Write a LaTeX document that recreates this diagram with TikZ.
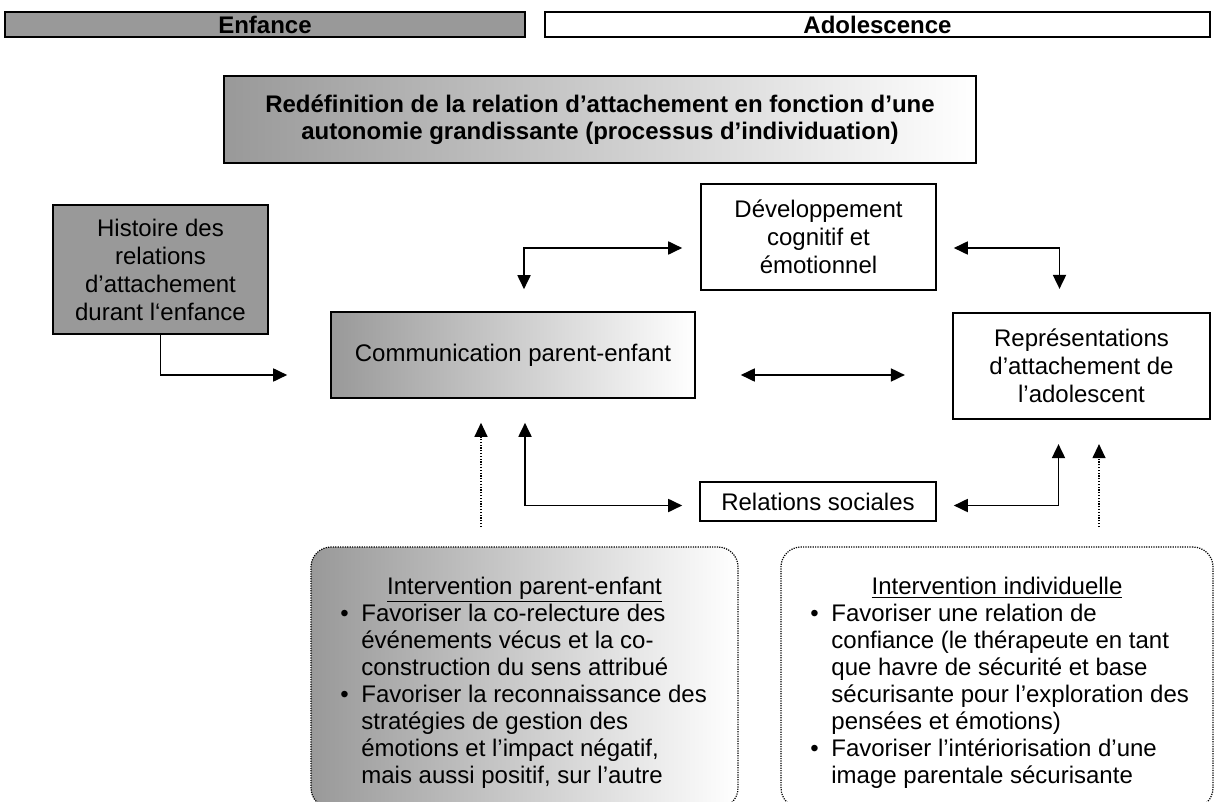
\documentclass[tikz,border=0pt]{standalone}
\usepackage{fontspec}
\setmainfont{Liberation Sans}
\usepackage{tikz}
\usetikzlibrary{arrows.meta, positioning}
\definecolor{boxgray}{HTML}{999999}

\begin{document}
\begin{tikzpicture}[
        x=0.5pt, y=-0.5pt,
        every node/.style={font=\fontsize{12}{14}\selectfont},
        box/.style={
            draw,
            line width=0.8pt,
            align=center,
            inner sep=0pt
        },
        grad/.style={left color=boxgray, right color=white},
        band/.style={box, font=\fontsize{12}{14}\selectfont\bfseries, minimum height=12.5pt},
        interv/.style={draw, line width=0.6pt, dash pattern=on 0.6pt off 0.6pt, rounded corners=10pt, minimum height=130.5pt},
        itemtext/.style={inner sep=0pt, font=\fontsize{12}{13.5}\selectfont},
        arrow/.style={-{Triangle[length=7pt, width=6.5pt]}, line width=0.9pt},
        biarrow/.style={{Triangle[length=7pt, width=6.5pt]}-{Triangle[length=7pt, width=6.5pt]}, line width=0.9pt},
        dotarrow/.style={-{Triangle[length=7pt, width=6.5pt]}, line width=0.6pt, dash pattern=on 0.6pt off 0.8pt}
    ]
        \useasboundingbox (0,0) rectangle (1215,802);

        % periods
        \node[band, fill=boxgray, minimum width=260pt] (enfance) at (265,24.5) {Enfance};
        \node[band, fill=white, minimum width=332.5pt] (ado) at (877.5,24.5) {Adolescence};

        \node[box, grad, font=\fontsize{12}{13.5}\selectfont\bfseries, minimum width=376pt, minimum height=43.5pt] (titre) at (600,119.5)
            {Redéfinition de la relation d’attachement en fonction d’une\\autonomie grandissante (processus d’individuation)};

        % model
        \node[box, fill=boxgray, minimum width=107.5pt, minimum height=64.5pt] (histoire) at (160.5,269.5)
            {Histoire des\\relations\\d’attachement\\durant l‘enfance};
        \node[box, minimum width=117.5pt, minimum height=53pt] (dev) at (818.5,237)
            {Développement\\cognitif et\\émotionnel};
        \node[box, grad, minimum width=182pt, minimum height=43pt] (comm) at (513,355) {Communication parent-enfant};
        \node[box, line width=1.1pt, minimum width=128.5pt, minimum height=53pt] (rep) at (1081.5,366)
            {Représentations\\d’attachement de\\l’adolescent};
        \node[box, minimum width=118pt, minimum height=19.5pt] (rel) at (818,501.5) {Relations sociales};

        % interventions
        \node[interv, grad, minimum width=213.5pt] (ipe) at (524.5,677.5) {};
        \node[interv, fill=white, minimum width=216pt] (iind) at (997,677.5) {};

        \begin{scope}
            \clip (0,540) rectangle (1215,787);
            \node[itemtext, anchor=base] (ipetitre) at (524.5,594) {\underline{Intervention parent-enfant}};
            \node[itemtext, anchor=base west] (ipetexte) at (340,621) {%
                \begin{tabular}[t]{@{}p{10.5pt}@{}l@{}}
                    \textbullet & Favoriser la co-relecture des\\
                     & événements vécus et la co-\\
                     & construction du sens attribué\\
                    \textbullet & Favoriser la reconnaissance des\\
                     & stratégies de gestion des\\
                     & émotions et l’impact négatif,\\
                     & mais aussi positif, sur l’autre
                \end{tabular}};
            \node[itemtext, anchor=base] (iindtitre) at (997,594) {\underline{Intervention individuelle}};
            \node[itemtext, anchor=base west] (iindtexte) at (810,621) {%
                \begin{tabular}[t]{@{}p{10.5pt}@{}l@{}}
                    \textbullet & Favoriser une relation de\\
                     & confiance (le thérapeute en tant\\
                     & que havre de sécurité et base\\
                     & sécurisante pour l’exploration des\\
                     & pensées et émotions)\\
                    \textbullet & Favoriser l’intériorisation d’une\\
                     & image parentale sécurisante
                \end{tabular}};
        \end{scope}

        % connectors
        \draw[arrow, shorten >=21.5pt] (histoire.south) |- ([yshift=-10pt]comm.west);
        \draw[biarrow, shorten <=11pt, shorten >=9pt] ([xshift=5.5pt]comm.north) |- ([yshift=-5.5pt]dev.west);
        \draw[biarrow, shorten <=8.5pt, shorten >=11.5pt] ([yshift=-5.5pt]dev.east) -| ([xshift=-11pt]rep.north);
        \draw[biarrow, shorten <=22.5pt, shorten >=23.5pt] ([yshift=-10pt]comm.east) -- ([yshift=-10pt]comm.east -| rep.west);
        \draw[biarrow, shorten <=12pt, shorten >=8.5pt] ([xshift=6pt]comm.south) |- ([yshift=-2pt]rel.west);
        \draw[biarrow, shorten <=8.5pt, shorten >=12pt] ([yshift=-2pt]rel.east) -| ([xshift=-11.5pt]rep.south);

        \coordinate (dotl) at (481,527);
        \coordinate (dotr) at (1099,527);
        \draw[dotarrow, shorten >=12pt] (dotl) -- (dotl |- comm.south);
        \draw[dotarrow, shorten >=12pt] (dotr) -- (dotr |- rep.south);
    \end{tikzpicture}
\end{document}
